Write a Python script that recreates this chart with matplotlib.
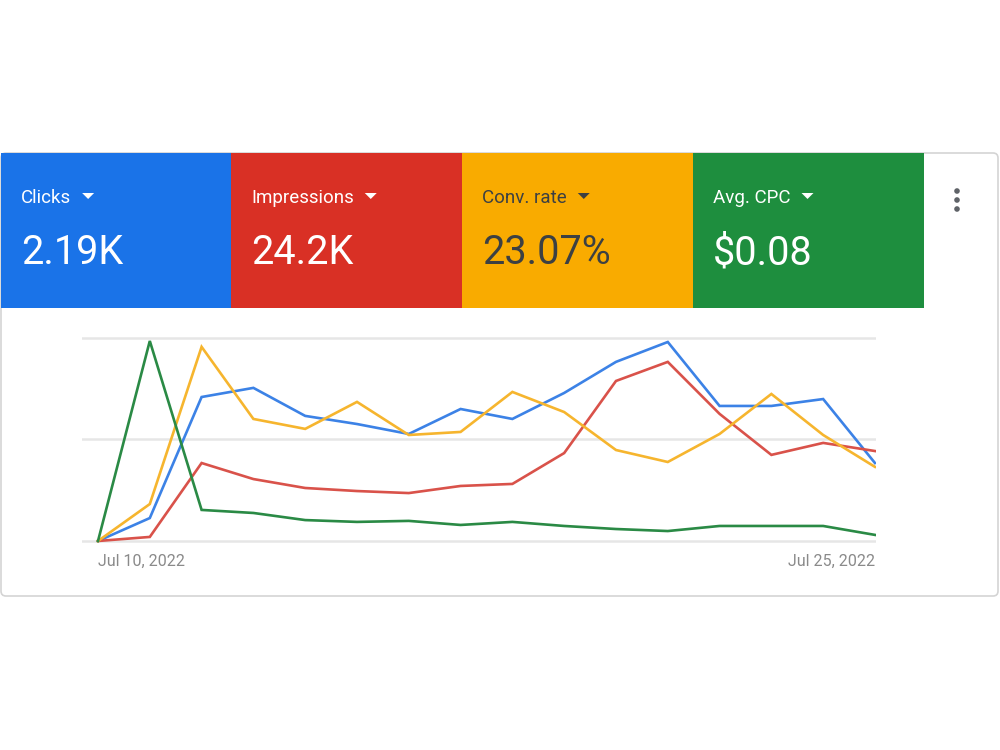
import matplotlib.pyplot as plt
from matplotlib.patches import Rectangle, FancyBboxPatch, Polygon, Circle

plt.rcParams['font.family'] = ['Roboto', 'DejaVu Sans']

# daily values, Jul 10 .. Jul 25 2022 (scaled to 0-100 of chart height)
days = list(range(16))
clicks = [0, 11.3, 70.9, 75.4, 61.6, 57.6, 52.7, 65.0, 60.1, 72.9, 88.2, 98.0, 66.5, 66.5, 69.9, 38.4]
impressions = [0, 2.0, 38.4, 30.5, 26.1, 24.6, 23.6, 27.1, 28.1, 43.3, 78.8, 88.2, 62.6, 42.4, 48.3, 44.3]
conv_rate = [0, 18.2, 95.6, 60.1, 55.2, 68.5, 52.2, 53.7, 73.4, 63.5, 44.8, 38.9, 52.7, 72.4, 52.2, 36.5]
avg_cpc = [0, 98.5, 15.3, 13.8, 10.3, 9.4, 9.9, 7.9, 9.4, 7.4, 5.9, 4.9, 7.4, 7.4, 7.4, 3.0]

tile_labels = ['Clicks', 'Impressions', 'Conv. rate', 'Avg. CPC']
tile_values = ['2.19K', '24.2K', '23.07%', '$0.08']
tile_colors = ['#1a73e8', '#d93025', '#f9ab00', '#1e8e3e']
tile_text = ['white', 'white', '#3c4043', 'white']
line_colors = ['#3c82e6', '#d9524a', '#f6b52e', '#2a8a45']
x_labels = ['Jul 10, 2022', 'Jul 25, 2022']

fig = plt.figure(figsize=(10, 7.5), dpi=100)

# overlay in pixel coordinates for the card and tiles
bg = fig.add_axes([0, 0, 1, 1])
bg.set_xlim(0, 1000)
bg.set_ylim(750, 0)
bg.axis('off')

card = FancyBboxPatch((1, 153), 997, 443, boxstyle='round,pad=0,rounding_size=5',
                      facecolor='white', edgecolor='#d4d4d4', linewidth=1.2)
bg.add_patch(card)

tile_w = 231
for i in range(4):
    x0 = i * tile_w + (1 if i == 0 else 0)
    bg.add_patch(Rectangle((x0, 153), tile_w, 155, facecolor=tile_colors[i], edgecolor='none'))
    tx = x0 + 20
    lab = bg.text(tx, 203, tile_labels[i], color=tile_text[i], fontsize=13.5, va='baseline')
    bg.text(tx, 264, tile_values[i], color=tile_text[i], fontsize=28.5, va='baseline')
    fig.canvas.draw()
    bb = lab.get_window_extent()
    left = bb.x1 + 11
    tri = Polygon([[left, 193], [left + 12, 193], [left + 6, 199]], closed=True,
                  facecolor=tile_text[i], edgecolor='none')
    bg.add_patch(tri)

for yy in [191, 200, 209]:
    bg.add_patch(Circle((957, yy), 2.8, facecolor='#5f6368', edgecolor='none'))

# line chart
ax = fig.add_axes([82 / 1000, 1 - 548 / 750, (876 - 82) / 1000, (548 - 330) / 750])
ax.set_xlim(-0.309, 15.02)
ax.set_ylim(-3.45, 103.9)
for gy in [0, 50, 100]:
    ax.axhline(gy, color='#e6e6e6', linewidth=1.8, zorder=0)
series = [clicks, impressions, conv_rate, avg_cpc]
for s, c in zip(series, line_colors):
    ax.plot(days, s, color=c, linewidth=1.9, solid_joinstyle='miter')
ax.axis('off')

ax.text(0, -9.9, x_labels[0], color='#8a8a8a', fontsize=11.5, ha='left', va='center')
ax.text(15, -9.9, x_labels[1], color='#8a8a8a', fontsize=11.5, ha='right', va='center')

fig.savefig('out.png', dpi=100, facecolor='white')
